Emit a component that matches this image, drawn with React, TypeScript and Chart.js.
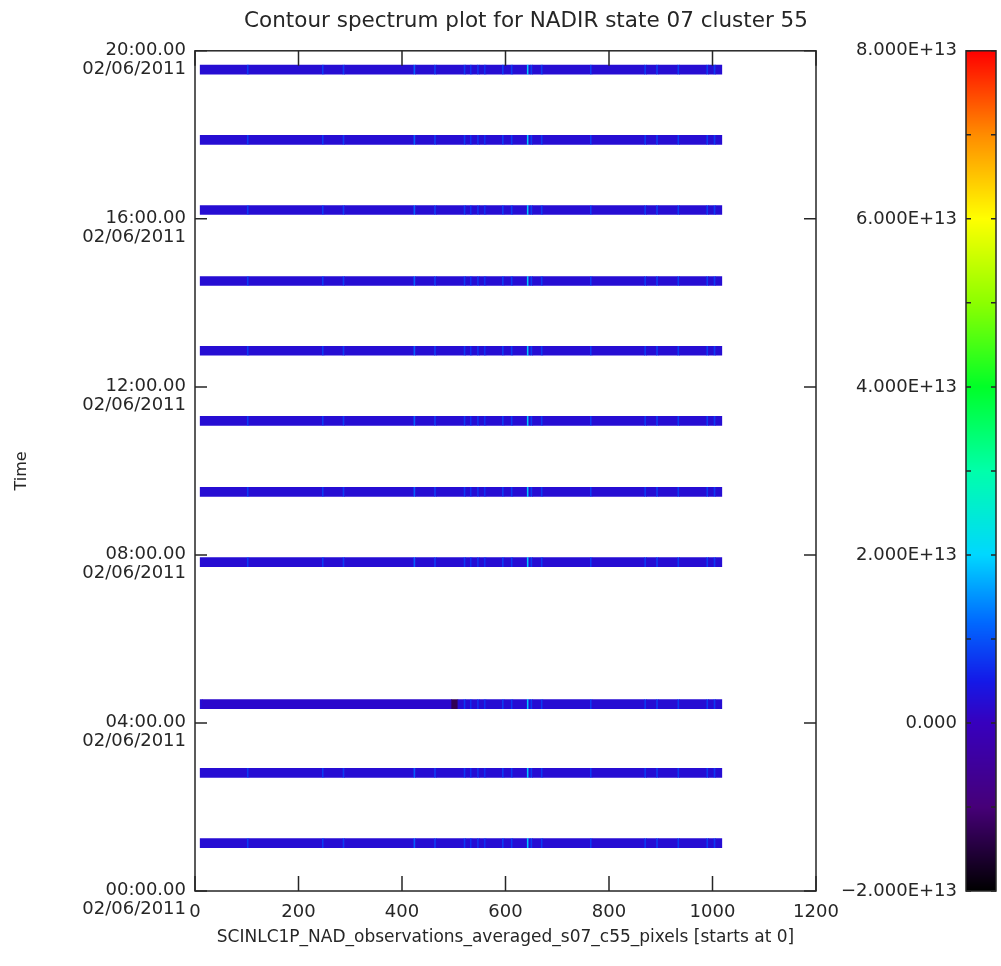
import React, { useEffect, useRef } from 'react';
import { Chart, registerables } from 'chart.js';

Chart.register(...registerables);

// ---------- text ----------
const titleText = 'Contour spectrum plot for NADIR state 07 cluster 55';
const xAxisTitle = 'SCINLC1P_NAD_observations_averaged_s07_c55_pixels [starts at 0]';
const yAxisTitle = 'Time';
const dateLabel = '02/06/2011';

// ---------- axes ----------
const timeMin = 0; // hours
const timeMax = 20;
const timeStep = 4;
const pixelAxisMin = 0;
const pixelAxisMax = 1200;
const pixelAxisStep = 200;
const colorMin = -2e13;
const colorMax = 8e13;
const colorLabelStep = 2e13;
const colorMinorStep = 1e13;

// ---------- data ----------
// observation strips (centre time, hours after 00:00 on 02/06/2011)
const stripHours = [1.14, 2.81, 4.45, 7.83, 9.5, 11.19, 12.86, 14.52, 16.21, 17.88, 19.55];
// detector pixel range covered by the strips
const pixelStart = 10;
const pixelEnd = 1018;
// typical signal level of a strip
const baseSignal = 0.25e13;
// detector columns that read brighter than the rest
const brightColumns = [102, 247, 287, 424, 464, 521, 533, 547, 560, 595, 612, 643, 650, 670, 765, 870, 893, 934, 990, 1004];
const brightSignal = [0.8e13, 0.8e13, 0.8e13, 1.1e13, 0.8e13, 0.8e13, 0.7e13, 0.7e13, 0.7e13, 0.8e13, 0.8e13, 1.9e13, 0.8e13, 0.8e13, 0.8e13, 0.8e13, 0.8e13, 0.8e13, 0.8e13, 0.8e13];
// local deviations: strip index, from pixel, to pixel, signal
const overrideStrip = [2, 2];
const overrideFrom = [14, 496];
const overrideTo = [496, 508];
const overrideSignal = [0.17e13, -1.3e13];

// ---------- colour table (IDL rainbow) ----------
const cmapFractions = [0, 0.1, 0.2, 0.25, 0.32, 0.4, 0.5, 0.6, 0.7, 0.8, 0.9, 1];
const cmapColors = [
  [0, 0, 0],
  [70, 0, 120],
  [55, 0, 190],
  [20, 25, 232],
  [0, 105, 255],
  [0, 215, 255],
  [0, 255, 170],
  [0, 255, 40],
  [140, 255, 0],
  [255, 255, 0],
  [255, 140, 0],
  [255, 0, 0],
];

const FONT = "'DejaVu Sans', 'Liberation Sans', sans-serif";
const INK = '#262626';

function colorFor(v: number): string {
  let t = (v - colorMin) / (colorMax - colorMin);
  t = Math.max(0, Math.min(1, t));
  let i = 0;
  while (i < cmapFractions.length - 2 && t > cmapFractions[i + 1]) i++;
  const f = (t - cmapFractions[i]) / (cmapFractions[i + 1] - cmapFractions[i]);
  const a = cmapColors[i];
  const b = cmapColors[i + 1];
  const c = a.map((av, k) => Math.round(av + (b[k] - av) * f));
  return `rgb(${c[0]},${c[1]},${c[2]})`;
}

function stripSegments(stripIndex: number) {
  const n = pixelEnd - pixelStart;
  const vals: number[] = new Array(n).fill(baseSignal);
  overrideStrip.forEach((s, k) => {
    if (s !== stripIndex) return;
    for (let p = overrideFrom[k]; p < overrideTo[k]; p++) {
      if (p >= pixelStart && p < pixelEnd) vals[p - pixelStart] = overrideSignal[k];
    }
  });
  brightColumns.forEach((c, k) => {
    if (stripIndex === 2 && c < 496) return;
    for (let p = c - 1; p <= c + 1; p++) {
      if (p >= pixelStart && p < pixelEnd) vals[p - pixelStart] = brightSignal[k];
    }
  });
  const segs: { a: number; b: number; v: number }[] = [];
  let start = 0;
  for (let i = 1; i <= n; i++) {
    if (i === n || vals[i] !== vals[start]) {
      segs.push({ a: pixelStart + start, b: pixelStart + i, v: vals[start] });
      start = i;
    }
  }
  return segs;
}

function hourLabel(h: number): string[] {
  return [`${String(Math.round(h)).padStart(2, '0')}:00.00`, dateLabel];
}

function colorLabel(v: number): string {
  if (Math.abs(v) < 1) return '0.000';
  const sign = v < 0 ? '\u2212' : '';
  return `${sign}${(Math.abs(v) / 1e13).toFixed(3)}E+13`;
}

// let the time axis labels use the whole left margin (they are wider than the axis box)
const widenTimeAxisPlugin = {
  id: 'widenTimeAxis',
  afterLayout(chart: any) {
    const y = chart.scales.y;
    if (y) {
      y.left = 0;
      y.width = y.right - y.left;
    }
  },
};

const framePlugin = {
  id: 'frame',
  afterDatasetsDraw(chart: any) {
    const { ctx, chartArea, scales } = chart;
    const { left, right, top, bottom } = chartArea;
    const x = scales.x;
    const y = scales.y;
    ctx.save();
    ctx.strokeStyle = INK;
    ctx.lineWidth = 1.5;
    ctx.strokeRect(left, top, right - left, bottom - top);
    ctx.beginPath();
    x.ticks.forEach((t: any) => {
      const px = x.getPixelForValue(t.value);
      ctx.moveTo(px, bottom);
      ctx.lineTo(px, bottom - 15);
      ctx.moveTo(px, top);
      ctx.lineTo(px, top + 15);
    });
    y.ticks.forEach((t: any) => {
      const py = y.getPixelForValue(t.value);
      ctx.moveTo(left, py);
      ctx.lineTo(left + 12, py);
      ctx.moveTo(right, py);
      ctx.lineTo(right - 12, py);
    });
    ctx.stroke();
    ctx.restore();
  },
};

const colorbarPlugin = {
  id: 'colorbar',
  afterDraw(chart: any) {
    const { ctx } = chart;
    const cb = chart.scales.cb;
    const barWidth = 30;
    const barLeft = cb.right + 9;
    const barRight = barLeft + barWidth;
    const top = cb.getPixelForValue(colorMax);
    const bottom = cb.getPixelForValue(colorMin);
    ctx.save();
    for (let py = Math.floor(top); py < Math.ceil(bottom); py++) {
      ctx.fillStyle = colorFor(cb.getValueForPixel(py + 0.5));
      ctx.fillRect(barLeft, py, barWidth, 1);
    }
    ctx.strokeStyle = INK;
    ctx.lineWidth = 1.5;
    ctx.strokeRect(barLeft, top, barWidth, bottom - top);
    ctx.beginPath();
    for (let v = colorMin; v <= colorMax + 1; v += colorMinorStep) {
      const py = cb.getPixelForValue(v);
      ctx.moveTo(barLeft, py);
      ctx.lineTo(barLeft + 5, py);
      ctx.moveTo(barRight, py);
      ctx.lineTo(barRight - 5, py);
    }
    ctx.stroke();
    ctx.restore();
  },
};

export default function App() {
  const canvasRef = useRef<HTMLCanvasElement | null>(null);

  useEffect(() => {
    const canvas = canvasRef.current;
    if (!canvas) return;
    const datasets = stripHours.map((h, i) => {
      const segs = stripSegments(i);
      return {
        label: `strip ${i}`,
        data: segs.map((s) => ({ x: [s.a, s.b], y: h })),
        backgroundColor: segs.map((s) => colorFor(s.v)),
        borderWidth: 0,
        barThickness: 9,
        grouped: false,
      };
    });

    const chart = new Chart(canvas, {
      type: 'bar',
      data: { datasets: datasets as any },
      plugins: [widenTimeAxisPlugin, framePlugin, colorbarPlugin],
      options: {
        indexAxis: 'y',
        animation: false,
        responsive: true,
        maintainAspectRatio: false,
        events: [],
        layout: { padding: { left: 95, right: 44, top: 0, bottom: 0 } },
        plugins: {
          legend: { display: false },
          tooltip: { enabled: false },
          title: {
            display: true,
            text: titleText,
            color: INK,
            font: { family: FONT, size: 21.5, weight: 'normal' },
            padding: { top: 9, bottom: 16 },
          },
        },
        scales: {
          x: {
            type: 'linear',
            position: 'bottom',
            min: pixelAxisMin,
            max: pixelAxisMax,
            grid: { display: false, drawTicks: false },
            border: { display: false },
            ticks: {
              stepSize: pixelAxisStep,
              color: INK,
              padding: 11,
              font: { family: FONT, size: 18 },
              maxRotation: 0,
              callback: (v: any) => String(v),
            },
            title: {
              display: true,
              text: xAxisTitle,
              color: INK,
              font: { family: FONT, size: 17 },
              padding: { top: 0, bottom: 18 },
            },
            afterFit(scale: any) {
              scale.height = 75;
            },
          },
          y: {
            type: 'linear',
            position: 'left',
            min: timeMin,
            max: timeMax,
            offset: false,
            grid: { display: false, drawTicks: false, offset: false },
            border: { display: false },
            ticks: {
              stepSize: timeStep,
              color: INK,
              padding: 9,
              labelOffset: 9,
              autoSkip: false,
              font: { family: FONT, size: 18, lineHeight: 1.03 },
              callback: (v: any) => hourLabel(Number(v)),
            },
            title: {
              display: true,
              text: yAxisTitle,
              color: INK,
              font: { family: FONT, size: 16 },
              padding: { top: 12.4, bottom: 0 },
            },
            afterFit(scale: any) {
              scale.width = 100;
            },
          },
          cb: {
            type: 'linear',
            axis: 'y',
            position: 'right',
            min: colorMin,
            max: colorMax,
            offset: false,
            grid: { display: false, drawTicks: false, offset: false },
            border: { display: false },
            ticks: {
              stepSize: colorLabelStep,
              color: INK,
              padding: 0,
              crossAlign: 'far',
              autoSkip: false,
              font: { family: FONT, size: 18 },
              callback: (v: any) => colorLabel(Number(v)),
            },
            afterFit(scale: any) {
              scale.width = 141;
            },
          },
        },
      } as any,
    });
    return () => chart.destroy();
  }, []);

  return (
    <div style={{ position: 'absolute', left: 0, top: 0, width: 1001, height: 966, background: '#fff' }}>
      <canvas ref={canvasRef} />
    </div>
  );
}
